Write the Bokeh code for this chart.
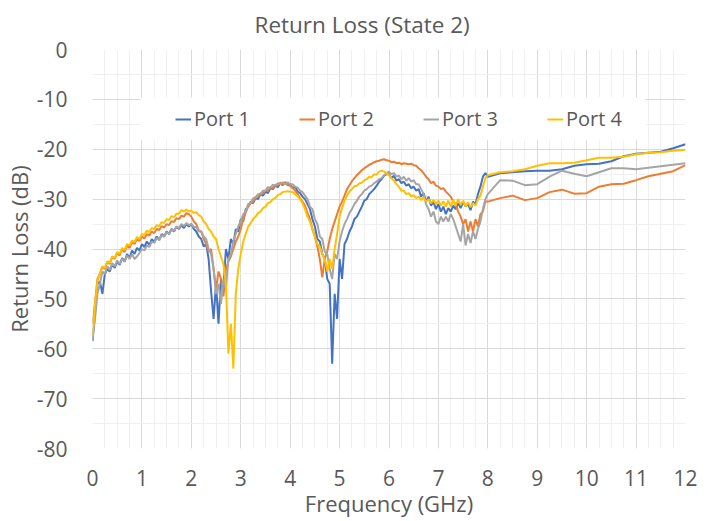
import numpy as np
from bokeh.plotting import figure
from bokeh.models import (ColumnDataSource, SingleIntervalTicker, Legend, LegendItem,
                          BoxAnnotation, Range1d)
from bokeh.embed import file_html
from bokeh.resources import INLINE

# ---------------- data ----------------
freq_lo = [round(i * 0.05, 2) for i in range(161)]          # 0.00 .. 8.00 GHz
freq_hi = [8.25, 8.5, 8.75, 9.0, 9.25, 9.5, 9.75, 10.0, 10.25, 10.5, 10.75,
           11.0, 11.25, 11.5, 11.75, 12.0]

port1_lo = [
    -58.5, -53, -47, -46.5, -49, -45, -44, -44.5, -43, -43.8, -42.5, -43.2, -41.8, -42.5, -41, -41.8, -40.3, -41, -39.8, -40.3,
    -39, -39.6, -38.5, -39.2, -38, -38.6, -37.5, -38.2, -37, -37.5, -36.5, -37, -36, -36.5, -35.5, -36, -35.2, -35.8, -35, -35.5,
    -35, -36, -36.5, -37.5, -38, -39.5, -39, -42, -48.5, -54, -47, -55, -46, -48, -40, -42, -38, -39, -36, -36.5,
    -34, -34.5, -32, -31.5, -30.5, -30.8, -29.8, -30, -29, -29.3, -28.5, -28.8, -27.8, -28, -27.3, -27.6, -26.8, -27.2, -26.6, -27,
    -27, -27.8, -27.5, -28.5, -28.8, -29.5, -30, -31, -32, -34, -35.5, -38, -38.5, -41, -42, -46, -47, -63, -49, -54,
    -42, -46, -39, -38, -36.5, -35.5, -34, -33.5, -32.5, -31.5, -30.3, -30, -29, -28.5, -28, -27.3, -26.5, -26, -25.3, -25,
    -25, -25.8, -25.3, -26.3, -26, -26.8, -26.5, -27.3, -27, -27.8, -27.5, -28.3, -28, -29.5, -28.8, -30.5, -29.5, -31.3, -30.5, -32,
    -31, -32.5, -31.5, -33, -31.8, -32.5, -31.3, -32, -30.8, -31.8, -30.5, -31.5, -31, -32.2, -30.5, -31, -29, -27.5, -25.5, -24.8,
    -25.5]
port1_hi = [-24.8, -24.6, -24.4, -24.3, -24.3, -24.0, -23.3, -23.0, -22.9, -22.4, -21.4,
            -20.9, -20.7, -20.5, -19.8, -19.0]

port2_lo = [
    -55, -51, -46, -45, -43.5, -44, -42.5, -43, -41.5, -42, -40.8, -41.3, -40, -40.6, -39.3, -39.8, -38.6, -39, -38, -38.4,
    -37.5, -37.9, -37, -37.3, -36.5, -36.8, -36, -36.2, -35.4, -35.7, -35, -35.2, -34.4, -34.6, -33.8, -34, -33.3, -33.5, -32.8, -33,
    -33.5, -34.5, -35, -36.3, -36.5, -38, -39, -40.5, -40, -44, -48, -44.5, -46, -49.5, -44, -42.5, -41.5, -40, -38.5, -37.5,
    -36, -34, -32.7, -31.5, -30.8, -30.5, -29.5, -29.5, -28.8, -28.9, -28.2, -28.3, -27.6, -27.8, -27.1, -27.3, -26.7, -27, -26.8, -27.2,
    -27.3, -27.8, -28.3, -29, -29.8, -30.5, -31.3, -32.7, -34, -36, -37.5, -39.5, -42, -45.7, -42, -40.5, -38, -36, -34.5, -33,
    -31.5, -30.5, -29.3, -28, -27.2, -26.4, -25.8, -25.2, -24.7, -24.2, -23.8, -23.5, -23.1, -22.9, -22.6, -22.4, -22.3, -22.1, -22, -22.2,
    -22.3, -22.6, -22.5, -22.8, -22.7, -23, -22.8, -22.9, -23, -22.9, -23.2, -23.3, -23.8, -24.2, -24.8, -25.5, -26, -26.8, -26.5, -27.3,
    -27.5, -28, -27.8, -28.5, -29, -29.5, -30.5, -31, -32.5, -33.5, -35, -34, -36.5, -34.5, -36.5, -34, -35.5, -33, -32.5, -30.5,
    -30.5]
port2_hi = [-29.8, -29.3, -30.2, -29.8, -28.6, -28.1, -28.9, -28.8, -27.5, -27.0, -26.9,
            -26.2, -25.4, -24.9, -24.4, -23.2]

port3_lo = [
    -58, -54, -49, -47, -44.5, -45, -43.5, -44.2, -42.8, -43.5, -42.3, -43, -42, -42.6, -41.3, -42, -41, -42, -41.5, -40.8,
    -40, -40.3, -39.3, -39.6, -38.5, -38.8, -37.8, -38.2, -37.2, -37.5, -36.6, -37, -36, -36.4, -35.5, -35.8, -35, -35.4, -34.8, -35.2,
    -35, -35.6, -35.6, -36.5, -36.5, -37.5, -38, -40, -41, -44, -49, -47, -51, -46, -48, -42, -41, -38.5, -37, -35.5,
    -34.5, -33, -32.5, -31, -30.8, -29.8, -29.8, -29, -29, -28.3, -28.3, -27.6, -27.7, -27.1, -27.3, -26.8, -27, -26.6, -27, -26.6,
    -27, -27, -27.5, -27.7, -28.3, -28.6, -29.3, -30, -31.5, -32, -34, -35, -37.5, -38, -40.5, -41, -44, -46, -41, -42,
    -38.5, -36.5, -35, -34, -32.8, -32, -31, -30.3, -29.5, -29, -28.3, -28, -27.5, -27.3, -26.8, -26.5, -26, -25.8, -25.2, -24.8,
    -24.5, -25, -24.8, -25.5, -25.3, -26, -25.5, -26.3, -25.8, -26.5, -26.2, -27, -27, -28, -29, -31, -32, -33.5, -32.5, -34.5,
    -35, -33.5, -34.5, -33.5, -34.5, -33, -34, -35.5, -37, -38.5, -35, -39.3, -37, -38.8, -36.5, -38, -36, -34.5, -32, -30,
    -29]
port3_hi = [-26.2, -26.3, -27.2, -27.0, -25.5, -24.3, -24.9, -25.4, -24.6, -23.8, -23.8,
            -24.0, -23.7, -23.4, -23.1, -22.8]

port4_lo = [
    -57.5, -51, -46.5, -45, -43.5, -43.8, -42.5, -42.8, -41.5, -41.8, -40.6, -41, -39.8, -40.2, -39, -39.3, -38.3, -38.6, -37.6, -38,
    -37, -37.2, -36.3, -36.6, -35.8, -36, -35.2, -35.4, -34.6, -34.8, -34, -34.2, -33.4, -33.6, -32.9, -33, -32.2, -32.5, -32.1, -32.5,
    -32.3, -32.8, -32.6, -33.2, -33.5, -34.5, -35, -36, -36.5, -37.5, -38, -40, -41.5, -43, -47, -61, -55, -64, -49, -44,
    -41, -38.5, -37, -35.5, -34.8, -34, -33.5, -32.8, -32.5, -31.8, -31.5, -30.8, -30.6, -30, -29.8, -29.2, -29, -28.6, -28.5, -28.4,
    -28.5, -28.6, -29, -29.4, -30, -30.8, -32, -33.5, -34.5, -36, -37.5, -39, -39.5, -41, -42, -44.5, -42, -44, -40, -37,
    -33.5, -31.8, -30.3, -29.3, -28.5, -28, -27.4, -27.3, -26.8, -26.7, -26.2, -26, -25.5, -25.6, -25, -25.1, -24.5, -24.3, -24.5, -24.8,
    -25.2, -25.8, -26.3, -27, -27.5, -28.3, -28.3, -29, -28.8, -29.5, -29.2, -29.8, -29.5, -30.2, -29.6, -30.5, -30, -30.8, -30.2, -31,
    -30.3, -31.3, -30.4, -31.5, -30.3, -31.5, -30.2, -31.3, -30, -31.2, -30.3, -31.5, -30.6, -31.6, -30.8, -31.3, -30, -29.3, -27.5, -25.8,
    -25.2]
port4_hi = [-24.6, -24.4, -24.0, -23.3, -22.8, -22.8, -22.7, -22.2, -21.7, -21.7, -21.5,
            -21.0, -20.7, -20.6, -20.3, -20.1]

series_names = ["Port 1", "Port 2", "Port 3", "Port 4"]
series_colors = ["#4472C4", "#ED7D31", "#A5A5A5", "#FFC000"]
series_values = [port1_lo + port1_hi, port2_lo + port2_hi,
                 port3_lo + port3_hi, port4_lo + port4_hi]
freq = freq_lo + freq_hi

y_ticks = [0, -10, -20, -30, -40, -50, -60, -70, -80]
y_tick_labels = ["0", "-10", "-20", "-30", "-40", "-50", "-60", "-70", "-80"]

# ---------------- figure ----------------
FONT = "Open Sans"
TXT = "#595959"

p = figure(width=707, height=521, output_backend="svg", toolbar_location=None,
           x_range=Range1d(0, 12), y_range=Range1d(-80, 0),
           min_border_left=92, min_border_right=22, min_border_top=49,
           min_border_bottom=73, background_fill_color="white",
           border_fill_color="white", outline_line_color=None)

p.title.text = "Return Loss (State 2)"
p.title.align = "left"
p.title.vertical_align = "top"
p.title.offset = 162
p.title.standoff = 16
p.title.text_font = FONT
p.title.text_font_size = "22.5px"
p.title.text_font_style = "normal"
p.title.text_color = TXT

p.xaxis.ticker = SingleIntervalTicker(interval=1, num_minor_ticks=4)
p.yaxis.ticker = SingleIntervalTicker(interval=10, num_minor_ticks=2)
p.yaxis.major_label_overrides = {t: s for t, s in zip(y_ticks, y_tick_labels)}

for ax in (p.xaxis[0], p.yaxis[0]):
    ax.axis_line_color = None
    ax.major_tick_line_color = None
    ax.minor_tick_line_color = None
    ax.major_label_text_font = FONT
    ax.major_label_text_font_size = "21px"
    ax.major_label_text_color = TXT
    ax.axis_label_text_font = FONT
    ax.axis_label_text_font_size = "22px"
    ax.axis_label_text_font_style = "normal"
    ax.axis_label_text_color = TXT

p.xaxis.axis_label = "Frequency (GHz)"
p.yaxis.axis_label = "Return Loss (dB)"
p.xaxis.major_label_standoff = 15
p.yaxis.major_label_standoff = 19
p.xaxis.axis_label_standoff = -1
p.yaxis.axis_label_standoff = 0

p.xgrid.grid_line_color = "#d9d9d9"
p.ygrid.grid_line_color = "#d9d9d9"
p.xgrid.minor_grid_line_color = "#f0f0f0"
p.ygrid.minor_grid_line_color = "#f0f0f0"

renderers = []
for name, col, vals in zip(series_names, series_colors, series_values):
    src = ColumnDataSource(dict(x=freq, y=vals))
    r = p.line("x", "y", source=src, line_color=col, line_width=2)
    renderers.append(r)

# white legend background (as in the reference)
p.add_layout(BoxAnnotation(left=0.97, right=11.19, top=-9.6, bottom=-18.2,
                           fill_color="white", fill_alpha=1.0, line_color=None))

legend = Legend(items=[LegendItem(label=n, renderers=[r]) for n, r in zip(series_names, renderers)],
                orientation="horizontal", location=(83, 316),
                background_fill_alpha=0.0, border_line_color=None,
                padding=0, margin=0, spacing=5,
                glyph_width=16, glyph_height=26, label_height=26,
                label_standoff=3, label_width=100,
                label_text_font=FONT, label_text_font_size="20px", label_text_color=TXT)
p.add_layout(legend, "center")

open("out.html", "w").write(file_html(p, INLINE))
